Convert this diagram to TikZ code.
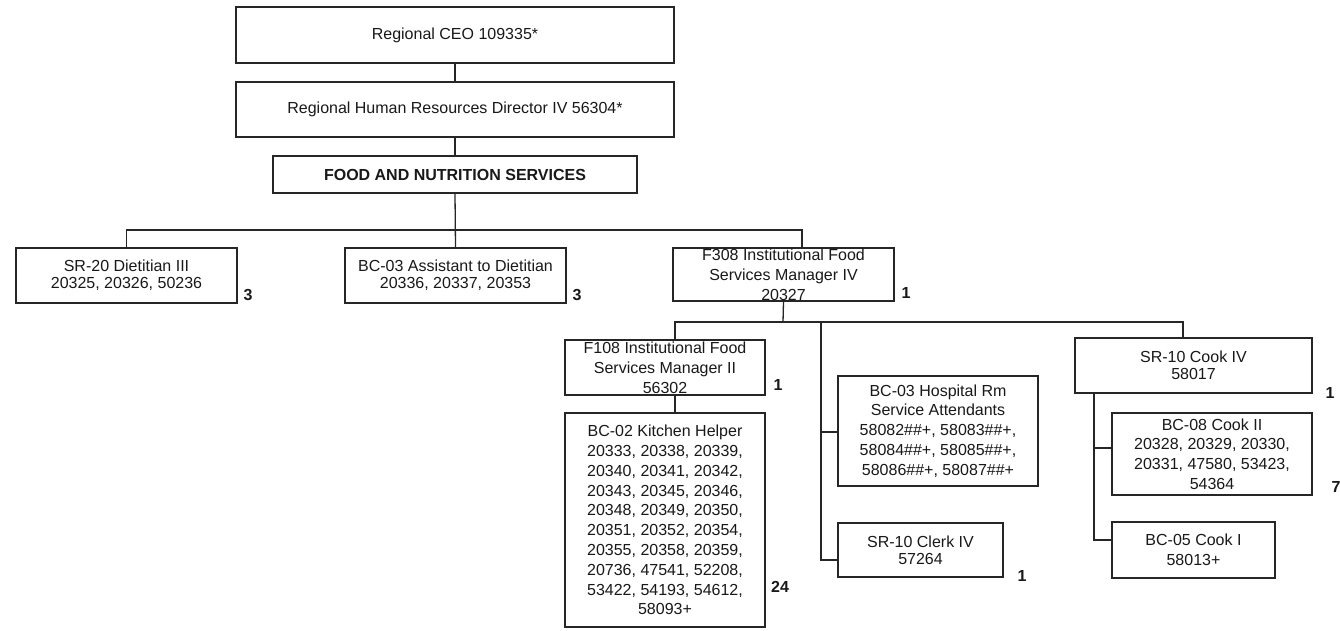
\documentclass[tikz,border=0pt]{standalone}
\usepackage{fontspec}
\setmainfont{Liberation Sans}
\begin{document}
\begin{tikzpicture}[x=1pt,y=-1pt,
  box/.style={draw=black!85, line width=1.3pt, rectangle, inner sep=0pt, align=center,
    font=\fontsize{16}{19.8}\selectfont, text=black!90},
  tight/.style={font=\fontsize{16}{17}\selectfont},
  count/.style={font=\fontsize{16}{18}\selectfont\bfseries, text=black!90, inner sep=0pt},
  link/.style={draw=black!85, line width=1.3pt}]
\useasboundingbox (0,0) rectangle (1340,631);
\fill[white] (0,0) rectangle (1340,631);

\node[box, minimum width=438pt, minimum height=56pt] (ceo) at (455,35) {Regional CEO 109335*};
\node[box, minimum width=438pt, minimum height=55pt] (hr) at (455,109.5) {Regional Human Resources Director IV 56304*};
\node[box, minimum width=364pt, minimum height=37pt, font=\fontsize{16}{19.5}\selectfont\bfseries] (fns) at (455,174.5) {FOOD AND NUTRITION SERVICES};

\node[box, tight, minimum width=221pt, minimum height=55pt] (diet) at (126.5,275.5) {SR-20 Dietitian III\\20325, 20326, 50236};
\node[box, tight, minimum width=221pt, minimum height=55pt] (asst) at (455.5,275.5) {BC-03 Assistant to Dietitian\\20336, 20337, 20353};
\node[box, minimum width=221pt, minimum height=53pt] (f308) at (783.5,274.5) {F308 Institutional Food\\Services Manager IV\\20327};

\node[box, minimum width=200pt, minimum height=55pt] (f108) at (665,367.5) {F108 Institutional Food\\Services Manager II\\56302};
\node[box, minimum width=200pt, minimum height=214pt] (kitchen) at (665,520) {BC-02 Kitchen Helper\\20333, 20338, 20339,\\20340, 20341, 20342,\\20343, 20345, 20346,\\20348, 20349, 20350,\\20351, 20352, 20354,\\20355, 20358, 20359,\\20736, 47541, 52208,\\53422, 54193, 54612,\\58093+};

\node[box, minimum width=200pt, minimum height=110pt] (hosp) at (938,431) {BC-03 Hospital Rm\\Service Attendants\\58082\#\#+, 58083\#\#+,\\58084\#\#+, 58085\#\#+,\\58086\#\#+, 58087\#\#+};
\node[box, tight, minimum width=165pt, minimum height=54pt] (clerk) at (920.5,550) {SR-10 Clerk IV\\57264};

\node[box, tight, minimum width=237pt, minimum height=55pt] (cook4) at (1193.5,365.5) {SR-10 Cook IV\\58017};
\node[box, minimum width=200pt, minimum height=82pt] (cook2) at (1212,454) {BC-08 Cook II\\20328, 20329, 20330,\\20331, 47580, 53423,\\54364};
\node[box, minimum width=163pt, minimum height=56pt] (cook1) at (1193.5,550) {BC-05 Cook I\\58013+};

% counts
\node[count] (n1) at (248,295) {3};
\node[count] (n2) at (577,295) {3};
\node[count] (n3) at (906,293) {1};
\node[count] (n4) at (778,385) {1};
\node[count] (n5) at (780,587) {24};
\node[count] (n6) at (1022,576) {1};
\node[count] (n7) at (1330,393) {1};
\node[count] (n8) at (1336,487) {7};

% connector points
\coordinate (bus1) at (455,230);
\coordinate (f308tap) at (802,248);
\coordinate (bus2) at (783,322);
\coordinate (f108tap) at (675,340);
\coordinate (kitchentap) at (675,413);
\coordinate (cook4tap) at (1183,338);
\coordinate (midtop) at (821,322);
\coordinate (hosptap) at (838,432);
\coordinate (clerktap) at (838,560);
\coordinate (cook4down) at (1094,393);
\coordinate (cook2tap) at (1112,448);
\coordinate (cook1tap) at (1112,540);

\draw[link] (ceo.south) -- (hr.north);
\draw[link] (hr.south) -- (fns.north);
\draw[link] (fns.south) -- (asst.north);
\draw[link] (diet.north) |- (bus1) -| (f308tap);
\draw[link] (f308.south) -- (bus2);
\draw[link] (f108tap) |- (bus2) -| (cook4tap);
\draw[link] (midtop) |- (clerktap);
\draw[link] (midtop |- hosptap) -- (hosptap);
\draw[link] (f108tap |- f108.south) -- (kitchentap);
\draw[link] (cook4down) |- (cook1tap);
\draw[link] (cook4down |- cook2tap) -- (cook2tap);
\end{tikzpicture}
\end{document}
